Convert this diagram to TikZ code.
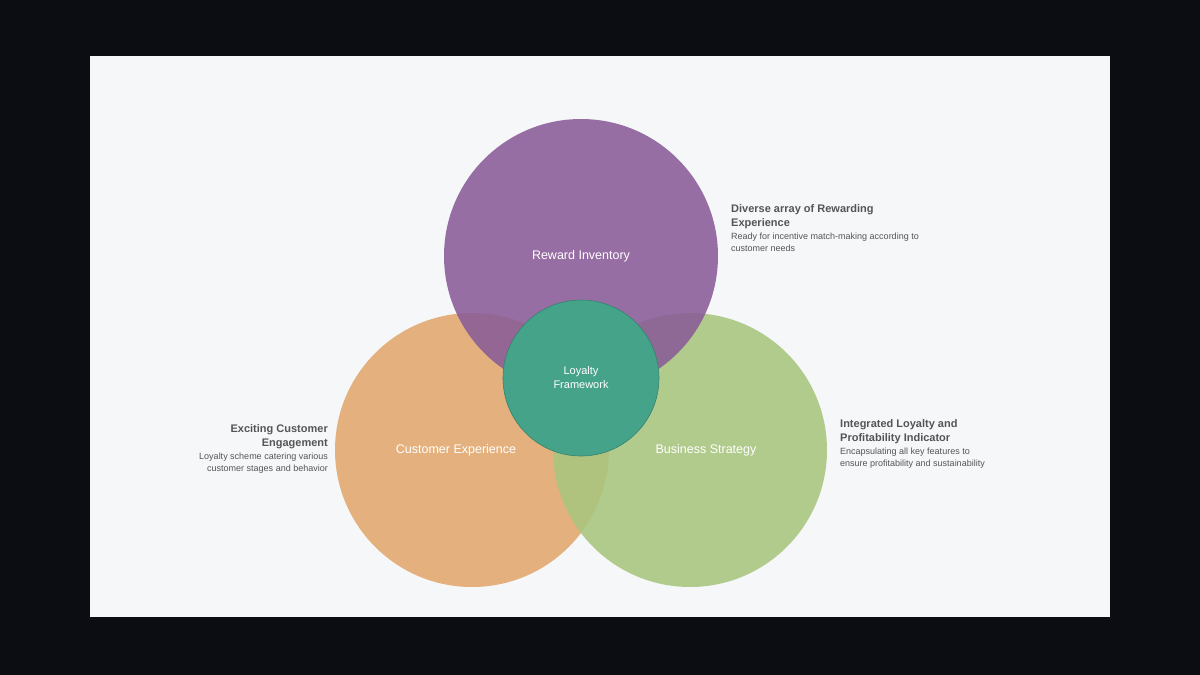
\documentclass[tikz,border=0pt]{standalone}
\usepackage{fontspec}
\setmainfont{Liberation Sans}
\usetikzlibrary{positioning}
\definecolor{frame}{HTML}{0B0D12}
\definecolor{panel}{HTML}{F6F7F9}
\definecolor{reward}{HTML}{8A5C98}
\definecolor{custexp}{HTML}{E2A86E}
\definecolor{bizstrat}{HTML}{A8C67F}
\definecolor{loyal}{HTML}{45A38A}
\definecolor{txt}{HTML}{555555}
\begin{document}
\begin{tikzpicture}[x=1pt,y=-1pt]
    \tikzset{ring/.style = {circle, minimum size=274pt, inner sep=0pt, fill opacity=0.88, text opacity=1, text=white, font=\fontsize{12.5}{15}\selectfont}}
    \tikzset{head/.style = {font=\bfseries\fontsize{11}{14}\selectfont, text=txt, inner sep=0pt}}
    \tikzset{body/.style = {font=\fontsize{9}{12}\selectfont, text=txt, inner sep=0pt}}

    % background and panel
    \fill[frame] (0,0) rectangle (1200,675);
    \fill[panel] (90,56) rectangle (1110,617);

    % circles
    \node[ring, fill=custexp] (cx) at (472,450) {};
    \node[ring, fill=bizstrat] (bs) at (690,450) {};
    \node[ring, fill=reward] (ri) at (581,256) {};
    \node[circle, minimum size=156pt, inner sep=0pt, fill=loyal, draw=loyal!80!black, line width=0.6pt,
          text=white, align=center, font=\fontsize{11}{14}\selectfont] (lf) at (581,378) {Loyalty\\Framework};

    % circle labels
    \node[text=white, font=\fontsize{12.5}{15}\selectfont] (riL) at (581,256) {Reward Inventory};
    \node[text=white, font=\fontsize{12.5}{15}\selectfont] (cxL) at (456,450) {Customer Experience};
    \node[text=white, font=\fontsize{12.5}{15}\selectfont] (bsL) at (706,450) {Business Strategy};

    % side notes
    \node[head, anchor=north west, align=left] (h1) at (731,204) {Diverse array of Rewarding\\Experience};
    \node[body, anchor=north west, align=left, below=4pt of h1.south west, anchor=north west] (b1) {Ready for incentive match-making according to\\customer needs};

    \node[head, anchor=north east, align=right] (h2) at (328,424) {Exciting Customer\\Engagement};
    \node[body, align=right, below=4pt of h2.south east, anchor=north east] (b2) {Loyalty scheme catering various\\customer stages and behavior};

    \node[head, anchor=north west, align=left] (h3) at (840,419) {Integrated Loyalty and\\Profitability Indicator};
    \node[body, align=left, below=4pt of h3.south west, anchor=north west] (b3) {Encapsulating all key features to\\ensure profitability and sustainability};
\end{tikzpicture}
\end{document}
